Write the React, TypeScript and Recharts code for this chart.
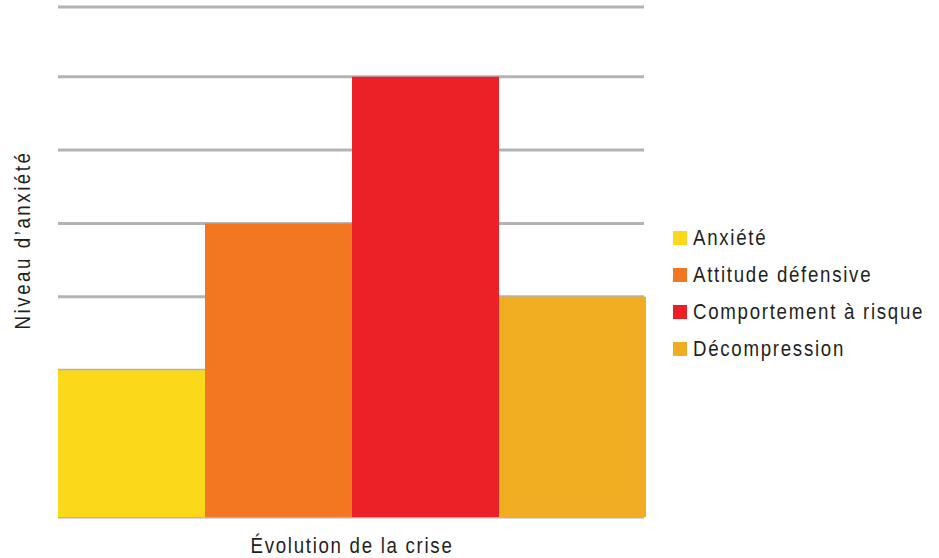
import { BarChart, Bar, XAxis, YAxis, CartesianGrid, Legend, Label } from "recharts";

const category = ["Crise"];
const anxiete = [2];
const attitude = [4];
const comportement = [6];
const decompression = [3];

const seriesNames = ["Anxiété", "Attitude défensive", "Comportement à risque", "Décompression"];
const seriesColors = ["#fcd81a", "#f37721", "#ec2027", "#f1ad22"];
const yTicks = [1, 2, 3, 4, 5, 6, 6.95];
const yMax = 6.95;

const data = category.map((name, i) => ({
  name,
  s0: anxiete[i],
  s1: attitude[i],
  s2: comportement[i],
  s3: decompression[i],
}));

const FONT = "'Liberation Sans', Arial, sans-serif";
const SQUEEZE = 0.85;

function LegendBox() {
  return (
    <div style={{ fontFamily: FONT }}>
      {seriesNames.map((n, i) => (
        <div
          key={n}
          style={{ display: "flex", alignItems: "center", height: 37, whiteSpace: "nowrap" }}
        >
          <span
            style={{
              display: "inline-block",
              flexShrink: 0,
              width: 14,
              height: 14,
              background: seriesColors[i],
              marginRight: 6,
            }}
          />
          <span
            style={{
              display: "inline-block",
              flexShrink: 0,
              fontSize: 22,
              letterSpacing: 2,
              color: "#231f20",
              transform: `scaleX(${SQUEEZE})`,
              transformOrigin: "left center",
            }}
          >
            {n}
          </span>
        </div>
      ))}
    </div>
  );
}

export default function App() {
  return (
    <div style={{ position: "absolute", left: 0, top: 0, background: "#fff" }}>
      <BarChart
        width={939}
        height={558}
        data={data}
        margin={{ top: 7, right: 295, bottom: 0, left: 0 }}
        barGap={0}
        barCategoryGap={0}
      >
        <CartesianGrid vertical={false} stroke="#b3b3b3" strokeWidth={3} />
        <XAxis dataKey="name" tick={false} axisLine={false} tickLine={false} height={41}>
          <Label
            content={({ viewBox }: any) => {
              const cx = viewBox.x + viewBox.width / 2 + 1;
              const cy = 553;
              return (
                <text
                  transform={`translate(${cx} ${cy}) scale(${SQUEEZE} 1)`}
                  textAnchor="middle"
                  style={{ fontFamily: FONT, fontSize: 22, letterSpacing: 2, fill: "#231f20" }}
                >
                  Évolution de la crise
                </text>
              );
            }}
          />
        </XAxis>
        <YAxis
          width={58}
          domain={[0, yMax]}
          ticks={yTicks}
          interval={0}
          tick={() => <g />}
          axisLine={false}
          tickLine={false}
        >
          <Label
            content={({ viewBox }: any) => {
              const cx = viewBox.x + 30;
              const cy = 240;
              return (
                <text
                  transform={`translate(${cx} ${cy}) rotate(-90) scale(${SQUEEZE} 1)`}
                  textAnchor="middle"
                  style={{ fontFamily: FONT, fontSize: 22, letterSpacing: 3, fill: "#231f20" }}
                >
                  Niveau d’anxiété
                </text>
              );
            }}
          />
        </YAxis>
        <Legend
          layout="vertical"
          align="center"
          verticalAlign="middle"
          content={() => <LegendBox />}
          wrapperStyle={{ left: 673, top: 219, width: 266 }}
        />
        {seriesNames.map((n, i) => (
          <Bar
            key={n}
            dataKey={`s${i}`}
            name={n}
            fill={seriesColors[i]}
            isAnimationActive={false}
          />
        ))}
      </BarChart>
    </div>
  );
}
